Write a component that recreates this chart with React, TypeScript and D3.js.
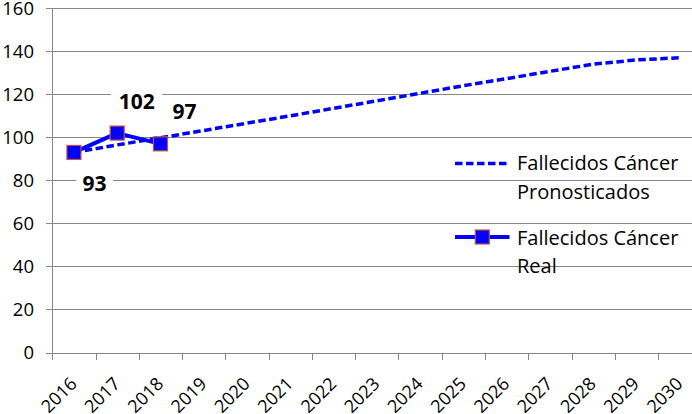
import React from 'react';
import * as d3 from 'd3';

const years = ['2016','2017','2018','2019','2020','2021','2022','2023','2024','2025','2026','2027','2028','2029','2030'];
const predicted = [93, 96.5, 99.8, 103.2, 106.6, 110, 113.5, 117, 120.5, 124, 127.3, 130.7, 134, 136, 137];
const real = [93, 102, 97];
const realLabels = ['93', '102', '97'];
const yTicks = [0, 20, 40, 60, 80, 100, 120, 140, 160];
const legendPred = ['Fallecidos Cáncer', 'Pronosticados'];
const legendReal = ['Fallecidos Cáncer', 'Real'];

const W = 692, H = 414;
const FONT = '"Open Sans", "Noto Sans", sans-serif';
const BLUE = '#0000FF';
const GRID = '#878787';
const MARK_STROKE = '#C0504D';

export default function App() {
  const x = d3.scaleBand<string>().domain(years).range([52.3, 701.3]);
  const y = d3.scaleLinear().domain([0, 160]).range([352.5, 8.3]);
  const cx = (i: number) => (x(years[i]) as number) + x.bandwidth() / 2;

  const line = d3.line<number>().x((_, i) => cx(i)).y(d => y(d));
  const labelOffsets = [[20.5, 31.5], [19.5, -32], [24, -32]];
  const labelBoxW = [37, 51, 39];

  return (
    <svg width={W} height={H} style={{ position: 'absolute', left: 0, top: 0, background: '#fff' }}>
      <rect width={W} height={H} fill="#fff" />
      {yTicks.map(t => (
        <line key={t} x1={46} x2={W} y1={Math.round(y(t)) + 0.5} y2={Math.round(y(t)) + 0.5} stroke={GRID} strokeWidth={1} />
      ))}
      <line x1={52.5} x2={52.5} y1={Math.round(y(160))} y2={Math.round(y(0)) + 1} stroke={GRID} />
      {years.map(yr => (
        <line key={yr} x1={Math.round(x(yr) as number) + 0.5} x2={Math.round(x(yr) as number) + 0.5}
          y1={Math.round(y(0))} y2={Math.round(y(0)) + 7} stroke={GRID} />
      ))}
      {yTicks.map(t => (
        <text key={t} x={34} y={y(t)} dy="0.36em" textAnchor="end" fontFamily={FONT} fontSize={18.5} fill="#000">{t}</text>
      ))}
      {years.map((yr, i) => (
        <text key={yr} transform={`translate(${cx(i) + 4},385) rotate(-45)`} textAnchor="end"
          fontFamily={FONT} fontSize={18} fill="#000">{yr}</text>
      ))}
      <path d={line(predicted) || ''} fill="none" stroke={BLUE} strokeWidth={3.5} strokeDasharray="7.5,3.5" />
      <path d={line(real) || ''} fill="none" stroke={BLUE} strokeWidth={4} strokeLinejoin="round" />
      {real.map((v, i) => (
        <rect key={i} x={cx(i) - 7} y={y(v) - 7} width={14} height={14} fill={BLUE} stroke={MARK_STROKE} strokeWidth={1.2} />
      ))}
      {real.map((v, i) => {
        const lx = cx(i) + labelOffsets[i][0];
        const ly = y(v) + labelOffsets[i][1];
        return (
          <g key={i}>
            <rect x={lx - labelBoxW[i] / 2} y={ly - 13} width={labelBoxW[i]} height={26} fill="#fff" />
            <text x={lx} y={ly} dy="0.36em" textAnchor="middle" fontFamily={FONT} fontWeight="bold" fontSize={21} fill="#000">{realLabels[i]}</text>
          </g>
        );
      })}
      <line x1={455} x2={509.5} y1={163.5} y2={163.5} stroke={BLUE} strokeWidth={3.5} strokeDasharray="7.5,3.5" />
      <text fontFamily={FONT} fontSize={20} fill="#000">
        <tspan x={517} y={170}>{legendPred[0]}</tspan>
        <tspan x={517} y={199}>{legendPred[1]}</tspan>
      </text>
      <line x1={455} x2={509.5} y1={237} y2={237} stroke={BLUE} strokeWidth={4} />
      <rect x={482.3 - 7} y={237 - 7} width={14} height={14} fill={BLUE} stroke={MARK_STROKE} strokeWidth={1.2} />
      <text fontFamily={FONT} fontSize={20} fill="#000">
        <tspan x={517} y={245}>{legendReal[0]}</tspan>
        <tspan x={517} y={273}>{legendReal[1]}</tspan>
      </text>
    </svg>
  );
}
